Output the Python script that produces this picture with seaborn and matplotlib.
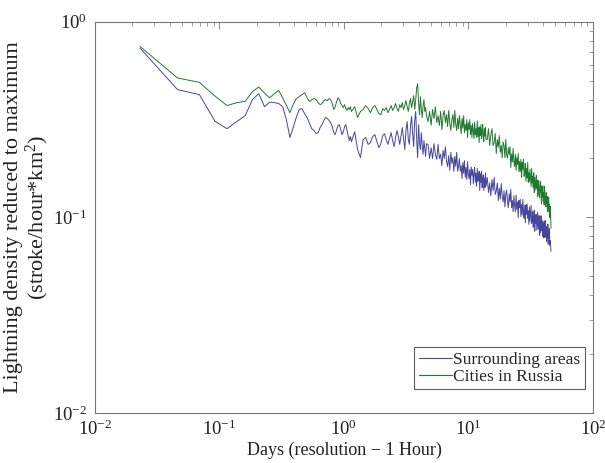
import matplotlib
matplotlib.use("Agg")
import matplotlib.pyplot as plt
import numpy as np
import pandas as pd
import seaborn as sns

# sample index (1-hour resolution steps) and size of one step in days
STEP_DAYS = 0.023
idx_a = np.arange(1, 51)
idx_b = np.arange(53, 201, 3)
idx_c = np.arange(206, 603, 6)
idx_d = np.arange(616, 2003, 14)

# Cities in Russia (green)
green_a = [0.748, 0.516, 0.490, 0.417, 0.373, 0.386, 0.392, 0.440, 0.464, 0.432,
           0.408, 0.429, 0.446, 0.408, 0.373, 0.343, 0.377, 0.405, 0.414, 0.424,
           0.434, 0.409, 0.391, 0.400, 0.405, 0.400, 0.386, 0.377, 0.382, 0.395,
           0.400, 0.395, 0.405, 0.400, 0.382, 0.356, 0.368, 0.391, 0.409, 0.400,
           0.382, 0.373, 0.364, 0.377, 0.360, 0.352, 0.364, 0.356, 0.368, 0.348]
green_b = [0.368, 0.324, 0.348, 0.356, 0.373, 0.360, 0.343, 0.364, 0.373, 0.356,
           0.339, 0.335, 0.360, 0.352, 0.364, 0.343, 0.356, 0.373, 0.352, 0.364,
           0.382, 0.360, 0.348, 0.377, 0.364, 0.386, 0.356, 0.373, 0.395, 0.368,
           0.348, 0.382, 0.405, 0.364, 0.391, 0.419, 0.356, 0.400, 0.460, 0.483,
           0.382, 0.335, 0.414, 0.356, 0.324, 0.373, 0.400, 0.348, 0.364, 0.331]
green_c = [0.309, 0.348, 0.296, 0.356, 0.320, 0.368, 0.305, 0.331, 0.295, 0.348,
           0.281, 0.331, 0.352, 0.305, 0.335, 0.291, 0.352, 0.304, 0.278, 0.316,
           0.335, 0.288, 0.352, 0.298, 0.278, 0.320, 0.284, 0.331, 0.298, 0.268,
           0.320, 0.286, 0.331, 0.271, 0.299, 0.278, 0.316, 0.256, 0.305, 0.281,
           0.316, 0.265, 0.295, 0.256, 0.302, 0.278, 0.253, 0.307, 0.265, 0.284,
           0.256, 0.311, 0.259, 0.288, 0.241, 0.290, 0.262, 0.298, 0.253, 0.273,
           0.299, 0.256, 0.244, 0.284, 0.260, 0.288, 0.250]
green_d = [0.250, 0.284, 0.233, 0.265, 0.284, 0.233, 0.241, 0.268, 0.212, 0.250,
           0.229, 0.262, 0.215, 0.233, 0.202, 0.243, 0.233, 0.202, 0.250, 0.207,
           0.201, 0.227, 0.210, 0.230, 0.180, 0.211, 0.192, 0.225, 0.193, 0.182,
           0.210, 0.174, 0.202, 0.186, 0.212, 0.171, 0.193, 0.172, 0.198, 0.160,
           0.191, 0.176, 0.198, 0.162, 0.168, 0.189, 0.153, 0.178, 0.159, 0.191,
           0.151, 0.169, 0.153, 0.176, 0.158, 0.144, 0.178, 0.150, 0.162, 0.142,
           0.169, 0.134, 0.160, 0.148, 0.138, 0.164, 0.141, 0.155, 0.128, 0.146,
           0.154, 0.133, 0.126, 0.145, 0.153, 0.133, 0.117, 0.144, 0.127, 0.145,
           0.121, 0.134, 0.116, 0.144, 0.120, 0.127, 0.113, 0.134, 0.118, 0.128,
           0.107, 0.127, 0.112, 0.127, 0.107, 0.117, 0.0995, 0.114, 0.104, 0.088]

# Surrounding areas (blue)
blue_a = [0.734, 0.450, 0.424, 0.310, 0.284, 0.309, 0.331, 0.400, 0.429, 0.368,
          0.388, 0.386, 0.382, 0.368, 0.316, 0.256, 0.288, 0.324, 0.356, 0.360,
          0.339, 0.324, 0.302, 0.284, 0.278, 0.268, 0.271, 0.288, 0.298, 0.313,
          0.324, 0.320, 0.313, 0.305, 0.291, 0.271, 0.265, 0.281, 0.295, 0.298,
          0.281, 0.265, 0.274, 0.291, 0.298, 0.278, 0.262, 0.247, 0.259, 0.244]
blue_b = [0.274, 0.222, 0.202, 0.250, 0.256, 0.236, 0.241, 0.259, 0.265, 0.244,
          0.227, 0.238, 0.262, 0.268, 0.250, 0.236, 0.253, 0.271, 0.247, 0.230,
          0.256, 0.278, 0.259, 0.236, 0.262, 0.288, 0.253, 0.222, 0.281, 0.309,
          0.250, 0.236, 0.295, 0.328, 0.268, 0.230, 0.313, 0.348, 0.250, 0.202,
          0.298, 0.241, 0.222, 0.271, 0.233, 0.210, 0.247, 0.225, 0.205, 0.238]
blue_c = [0.236, 0.200, 0.227, 0.200, 0.238, 0.210, 0.198, 0.236, 0.200, 0.210,
          0.184, 0.220, 0.200, 0.230, 0.193, 0.182, 0.207, 0.174, 0.215, 0.189,
          0.202, 0.172, 0.205, 0.182, 0.215, 0.172, 0.182, 0.200, 0.172, 0.184,
          0.158, 0.191, 0.168, 0.195, 0.160, 0.180, 0.156, 0.193, 0.166, 0.158,
          0.176, 0.147, 0.181, 0.164, 0.176, 0.148, 0.168, 0.180, 0.151, 0.168,
          0.144, 0.178, 0.153, 0.156, 0.172, 0.137, 0.167, 0.151, 0.172, 0.142,
          0.156, 0.165, 0.137, 0.159, 0.142, 0.169, 0.144]
blue_d = [0.160, 0.134, 0.150, 0.129, 0.156, 0.137, 0.160, 0.131, 0.136, 0.150,
          0.122, 0.141, 0.124, 0.149, 0.128, 0.120, 0.137, 0.113, 0.131, 0.138,
          0.119, 0.112, 0.132, 0.120, 0.139, 0.112, 0.122, 0.107, 0.129, 0.115,
          0.107, 0.130, 0.110, 0.120, 0.0995, 0.122, 0.112, 0.1235, 0.101, 0.1165,
          0.103, 0.1235, 0.106, 0.099, 0.115, 0.094, 0.116, 0.1036, 0.117, 0.099,
          0.108, 0.0921, 0.113, 0.0955, 0.105, 0.115, 0.093, 0.0957, 0.107, 0.089,
          0.0966, 0.109, 0.085, 0.103, 0.093, 0.1036, 0.086, 0.0957, 0.106, 0.087,
          0.089, 0.102, 0.081, 0.095, 0.084, 0.102, 0.0855, 0.089, 0.096, 0.080,
          0.093, 0.0785, 0.0957, 0.085, 0.079, 0.0966, 0.080, 0.088, 0.075, 0.090,
          0.078, 0.0925, 0.073, 0.086, 0.078, 0.088, 0.072, 0.076, 0.071, 0.067]

SERIES = ["Surrounding areas", "Cities in Russia"]
COLORS = {"Surrounding areas": "#46469c", "Cities in Russia": "#1f7a30"}

days = np.concatenate([idx_a, idx_b, idx_c, idx_d]) * STEP_DAYS
df = pd.concat([
    pd.DataFrame({"days": days, "density": blue_a + blue_b + blue_c + blue_d,
                  "series": SERIES[0]}),
    pd.DataFrame({"days": days, "density": green_a + green_b + green_c + green_d,
                  "series": SERIES[1]}),
])

sns.set_theme(style="white")
plt.rcParams["font.family"] = ["Liberation Serif", "DejaVu Serif"]
plt.rcParams["mathtext.fontset"] = "custom"
plt.rcParams["mathtext.rm"] = "Liberation Serif"
plt.rcParams["mathtext.it"] = "Liberation Serif:italic"
plt.rcParams["mathtext.bf"] = "Liberation Serif:bold"

fig = plt.figure(figsize=(6.05, 4.63), dpi=100)
ax = fig.add_axes([0.157, 0.108, 0.823, 0.845])

sns.lineplot(data=df, x="days", y="density", hue="series", hue_order=SERIES,
             palette=COLORS, estimator=None, sort=False, linewidth=0.7, ax=ax)

ax.set_xscale("log")
ax.set_yscale("log")
ax.set_xlim(1e-2, 1e2)
ax.set_ylim(1e-2, 1e0)

for side in ax.spines.values():
    side.set_color("#777777")
    side.set_linewidth(0.8)
ax.tick_params(which="both", direction="in", top=True, right=True,
               color="#777777", labelcolor="#222222", labelsize=13.5)
ax.tick_params(which="major", length=5, width=0.6)
ax.tick_params(which="minor", length=3, width=0.5)
ax.tick_params(axis="x", pad=5)
ax.tick_params(axis="y", pad=6)

ax.set_xlabel("Days (resolution \u2212 1 Hour)", fontsize=13, color="#222222", labelpad=2)
ax.set_ylabel("Lightning density reduced to maximum\n(stroke/hour*km$^2$)",
              fontsize=16, color="#222222", linespacing=1.05)
ax.yaxis.set_label_coords(-0.088, 0.5)

leg = ax.legend(loc="lower right", bbox_to_anchor=(0.984, 0.061), borderaxespad=0,
                fontsize=12.5, frameon=True, fancybox=False, handlelength=1.9,
                handletextpad=0.1, borderpad=0.25, labelspacing=0.05)
leg.get_frame().set_edgecolor("#333333")
leg.get_frame().set_linewidth(0.8)
for line in leg.get_lines():
    line.set_linewidth(0.8)

fig.savefig("out.png", dpi=100)
